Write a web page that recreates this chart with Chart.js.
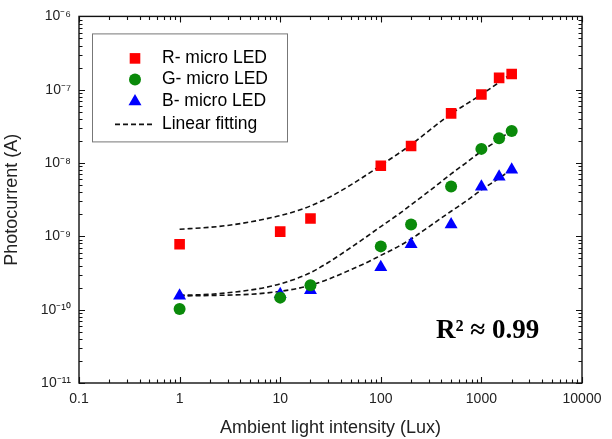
<!DOCTYPE html>
<html lang="en">
<head>
<meta charset="UTF-8">
<title>Photocurrent vs ambient light</title>
<script src="https://cdn.jsdelivr.net/npm/chart.js"></script>
<style>
  html, body { margin: 0; padding: 0; background: #fff; }
  #wrap { width: 612px; height: 439px; }
</style>
</head>
<body>
<div id="wrap"><canvas id="chart" width="612" height="439"></canvas></div>
<script>
// measured points (lux, A)
const xLux = [1, 10, 20, 100, 200, 500, 1000, 1500, 2000];
const redCurrent = [7.8e-10, 1.16e-9, 1.75e-9, 9.2e-9, 1.71e-8, 4.75e-8, 8.6e-8, 1.45e-7, 1.64e-7];
const greenCurrent = [1.02e-10, 1.46e-10, 2.15e-10, 7.3e-10, 1.45e-9, 4.8e-9, 1.56e-8, 2.18e-8, 2.74e-8];
const blueCurrent = [1.55e-10, 1.62e-10, 1.84e-10, 3.8e-10, 7.8e-10, 1.45e-9, 4.75e-9, 6.5e-9, 8.1e-9];

// dashed fit curves
const fitLux = [1, 2, 3, 5, 7, 10, 15, 20, 30, 50, 70, 100, 150, 200, 300, 500, 700, 1000, 1500, 2000];
const redFit = [1.25e-9, 1.33e-9, 1.41e-9, 1.57e-9, 1.72e-9, 1.92e-9, 2.25e-9, 2.6e-9, 3.35e-9, 5.0e-9,
  6.7e-9, 9.3e-9, 1.35e-8, 1.78e-8, 2.75e-8, 4.7e-8, 6.3e-8, 8.6e-8, 1.26e-7, 1.67e-7];
const greenFit = [1.57e-10, 1.62e-10, 1.7e-10, 1.85e-10, 2.0e-10, 2.25e-10, 2.7e-10, 3.2e-10, 4.4e-10, 7.0e-10,
  9.6e-10, 1.36e-9, 2.0e-9, 2.7e-9, 4.1e-9, 7.1e-9, 1.0e-8, 1.45e-8, 2.1e-8, 2.8e-8];
const blueFit = [1.54e-10, 1.56e-10, 1.58e-10, 1.62e-10, 1.68e-10, 1.78e-10, 1.95e-10, 2.15e-10, 2.6e-10, 3.5e-10,
  4.3e-10, 5.5e-10, 7.3e-10, 9.2e-10, 1.35e-9, 2.2e-9, 3.0e-9, 4.3e-9, 6.2e-9, 8.2e-9];

const seriesNames = ['R- micro LED', 'G- micro LED', 'B- micro LED', 'Linear fitting'];

// axis decades and their labels
const xMajor = [0.1, 1, 10, 100, 1000, 10000];
const xTickLabels = ['0.1', '1', '10', '100', '1000', '10000'];
const yMajor = [1e-11, 1e-10, 1e-9, 1e-8, 1e-7, 1e-6];
const yTickLabels = ['10\u207B\u00B9\u00B9', '10\u207B\u00B9\u2070', '10\u207B\u2079', '10\u207B\u2078', '10\u207B\u2077', '10\u207B\u2076'];

const FONT = '"Liberation Sans", Arial, sans-serif';

function pts(xs, ys) { return xs.map((x, i) => ({ x: x, y: ys[i] })); }

// majors + 2..9 minors for a log axis
function logTicks(majors, labels) {
  const out = [];
  majors.forEach((m, i) => {
    out.push({ value: m, major: true, lbl: labels[i] });
    if (i < majors.length - 1) {
      for (let k = 2; k <= 9; k++) out.push({ value: m * k, major: false, lbl: '' });
    }
  });
  return out;
}

function fitSet(data) {
  return {
    type: 'line', label: seriesNames[3], data: data,
    borderColor: '#111', borderWidth: 1.6, borderDash: [5, 3],
    pointRadius: 0, fill: false, cubicInterpolationMode: 'monotone', order: 2
  };
}

// frame with inward ticks on all four sides, legend and R^2 note
const framePlugin = {
  id: 'frame',
  beforeDatasetsDraw(chart) {
    const { ctx, chartArea: a } = chart;
    const xs = chart.scales.x, ys = chart.scales.y;
    ctx.save();
    ctx.strokeStyle = '#111';
    ctx.lineWidth = 1.4;
    ctx.strokeRect(a.left, a.top, a.right - a.left, a.bottom - a.top);
    ctx.lineWidth = 1.1;
    ctx.beginPath();
    xs.ticks.forEach(t => {
      const p = Math.round(xs.getPixelForValue(t.value)) + 0.5;
      const l = t.major ? 6 : 3.5;
      ctx.moveTo(p, a.bottom); ctx.lineTo(p, a.bottom - l);
      ctx.moveTo(p, a.top); ctx.lineTo(p, a.top + l);
    });
    ys.ticks.forEach(t => {
      const p = Math.round(ys.getPixelForValue(t.value)) + 0.5;
      const l = t.major ? 6 : 3.5;
      ctx.moveTo(a.left, p); ctx.lineTo(a.left + l, p);
      ctx.moveTo(a.right, p); ctx.lineTo(a.right - l, p);
    });
    ctx.stroke();
    ctx.restore();
  },
  afterDraw(chart) {
    const { ctx, chartArea: a } = chart;
    ctx.save();
    const bx = a.left + 13, by = a.top + 17, bw = 195, bh = 108;
    ctx.strokeStyle = '#777';
    ctx.lineWidth = 1;
    ctx.strokeRect(bx + 0.5, by + 0.5, bw, bh);
    ctx.font = '17.5px ' + FONT;
    ctx.textBaseline = 'middle';
    const rows = [by + 25, by + 46, by + 68, by + 91];
    const ds = chart.data.datasets;
    for (let i = 0; i < 3; i++) {
      const d = ds[i];
      ctx.fillStyle = d.backgroundColor;
      ctx.strokeStyle = d.borderColor;
      Chart.helpers.drawPoint(ctx, { pointStyle: d.pointStyle, radius: d.pointRadius, borderWidth: 0 }, bx + 43, rows[i]);
      ctx.fillStyle = '#000';
      ctx.fillText(d.label, bx + 70, rows[i]);
    }
    ctx.strokeStyle = '#111';
    ctx.lineWidth = 1.6;
    ctx.setLineDash([5, 3]);
    ctx.beginPath();
    ctx.moveTo(bx + 23, rows[3]); ctx.lineTo(bx + 63, rows[3]);
    ctx.stroke();
    ctx.setLineDash([]);
    ctx.fillText(ds[3].label, bx + 70, rows[3]);
    ctx.font = 'bold 27px "Liberation Serif", "DejaVu Serif", serif';
    ctx.textBaseline = 'alphabetic';
    ctx.fillText('R\u00B2 \u2248 0.99', a.right - 146, a.bottom - 45);
    ctx.restore();
  }
};

new Chart(document.getElementById('chart'), {
  type: 'scatter',
  data: {
    datasets: [
      { label: seriesNames[0], data: pts(xLux, redCurrent), pointStyle: 'rect', pointRadius: 7.5,
        backgroundColor: '#ff0000', borderColor: '#ff0000', borderWidth: 0, order: 1 },
      { label: seriesNames[1], data: pts(xLux, greenCurrent), pointStyle: 'circle', pointRadius: 6,
        backgroundColor: '#0a8a0a', borderColor: '#0a8a0a', borderWidth: 0, order: 1 },
      { label: seriesNames[2], data: pts(xLux, blueCurrent), pointStyle: 'triangle', pointRadius: 7.5,
        backgroundColor: '#0000ff', borderColor: '#0000ff', borderWidth: 0, order: 1 },
      fitSet(pts(fitLux, redFit)),
      fitSet(pts(fitLux, greenFit)),
      fitSet(pts(fitLux, blueFit))
    ]
  },
  options: {
    responsive: false,
    animation: false,
    layout: { padding: { left: 0, right: 30, top: 15, bottom: 0 } },
    plugins: { legend: { display: false }, tooltip: { enabled: false } },
    scales: {
      x: {
        type: 'logarithmic', min: 0.1, max: 10000,
        afterBuildTicks: s => { s.ticks = logTicks(xMajor, xTickLabels); },
        afterFit: s => { s.height = 56; },
        grid: { display: false, drawTicks: false },
        border: { display: false },
        ticks: {
          autoSkip: false, maxRotation: 0, padding: 8, color: '#222',
          font: { family: FONT, size: 14 },
          callback: (v, i, t) => t[i].lbl
        },
        title: { display: true, text: 'Ambient light intensity (Lux)', color: '#222',
          font: { family: FONT, size: 18 }, padding: { top: 4, bottom: 0 } }
      },
      y: {
        type: 'logarithmic', min: 1e-11, max: 1e-6,
        afterBuildTicks: s => { s.ticks = logTicks(yMajor, yTickLabels); },
        afterFit: s => { s.width = 79; },
        grid: { display: false, drawTicks: false },
        border: { display: false },
        ticks: {
          autoSkip: false, padding: 8, color: '#222',
          font: { family: FONT, size: 14 },
          callback: (v, i, t) => t[i].lbl
        },
        title: { display: true, text: 'Photocurrent (A)', color: '#222',
          font: { family: FONT, size: 18 }, padding: { top: 1, bottom: 0 } }
      }
    }
  },
  plugins: [framePlugin]
});
</script>
</body>
</html>
